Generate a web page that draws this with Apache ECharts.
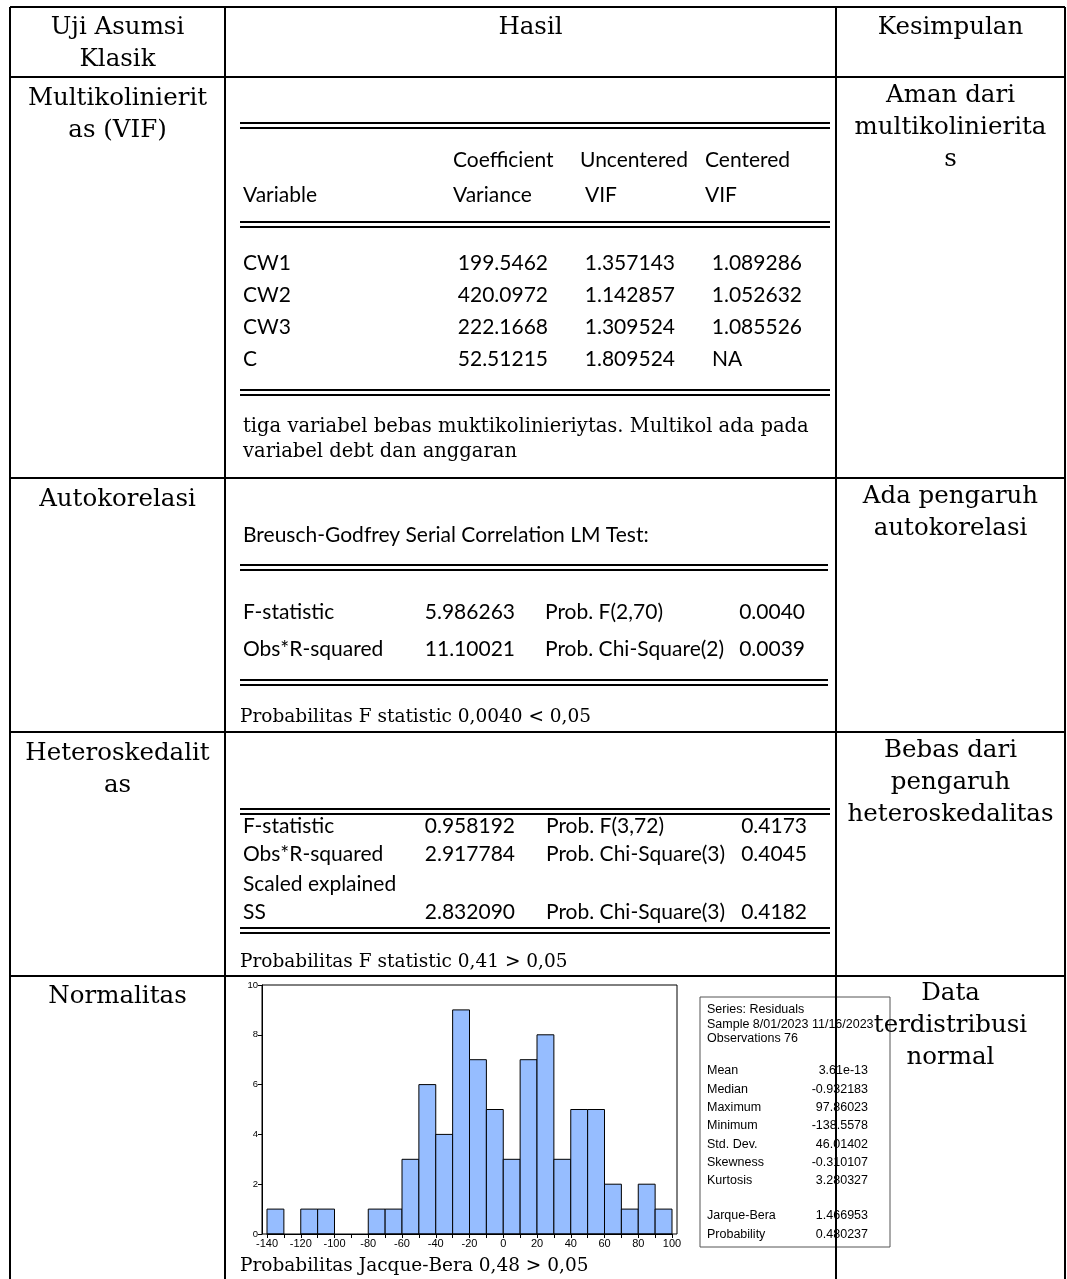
<!DOCTYPE html>
<html><head><meta charset="utf-8">
<script src="https://cdn.jsdelivr.net/npm/echarts@6/dist/echarts.min.js"></script>
<style>html,body{margin:0;padding:0;background:#fff}#c{width:1067px;height:1279px}</style>
</head><body><div id="c"></div><script>
// ---------- data ----------
const headers = ['Uji Asumsi\nKlasik', 'Hasil', 'Kesimpulan'];
const tests = ['Multikolinierit\nas (VIF)', 'Autokorelasi', 'Heteroskedalit\nas', 'Normalitas'];
const conclusions = ['Aman dari\nmultikolinierita\ns', 'Ada pengaruh\nautokorelasi', 'Bebas dari\npengaruh\nheteroskedalitas', 'Data\nterdistribusi\nnormal'];
const notes = ['tiga variabel bebas muktikolinieriytas. Multikol ada pada\nvariabel debt dan anggaran',
  'Probabilitas F statistic 0,0040 < 0,05', 'Probabilitas F statistic 0,41 > 0,05', 'Probabilitas Jacque-Bera 0,48 > 0,05'];
const vifHead1 = ['', 'Coefficient', 'Uncentered', 'Centered'];
const vifHead2 = ['Variable', 'Variance', 'VIF', 'VIF'];
const vifVars = ['CW1', 'CW2', 'CW3', 'C'];
const vifCoefVar = ['199.5462', '420.0972', '222.1668', '52.51215'];
const vifUncentered = ['1.357143', '1.142857', '1.309524', '1.809524'];
const vifCentered = ['1.089286', '1.052632', '1.085526', 'NA'];
const bgTitle = 'Breusch-Godfrey Serial Correlation LM Test:';
const bgNames = ['F-statistic', 'Obs*R-squared'];
const bgValues = ['5.986263', '11.10021'];
const bgProbNames = ['Prob. F(2,70)', 'Prob. Chi-Square(2)'];
const bgProbs = ['0.0040', '0.0039'];
const hetNames = ['F-statistic', 'Obs*R-squared', 'Scaled explained\nSS'];
const hetValues = ['0.958192', '2.917784', '2.832090'];
const hetProbNames = ['Prob. F(3,72)', 'Prob. Chi-Square(3)', 'Prob. Chi-Square(3)'];
const hetProbs = ['0.4173', '0.4045', '0.4182'];
const binEdges = [-140,-130,-120,-110,-100,-90,-80,-70,-60,-50,-40,-30,-20,-10,0,10,20,30,40,50,60,70,80,90,100];
const counts = [1,0,1,1,0,0,1,1,3,6,4,9,7,5,3,7,8,3,5,5,2,1,2,1];
const statsHeader = ['Series: Residuals', 'Sample 8/01/2023 11/16/2023', 'Observations 76'];
const statsLabels = ['Mean', 'Median', 'Maximum', 'Minimum', 'Std. Dev.', 'Skewness', 'Kurtosis', 'Jarque-Bera', 'Probability'];
const statsValues = ['3.61e-13', '-0.932183', '97.86023', '-138.5578', '46.01402', '-0.310107', '3.280327', '1.466953', '0.480237'];

// ---------- layout helpers ----------
const SERIF = 'DejaVu Serif';
const CAL = 'Lato';
const ARIAL = 'Liberation Sans';
const g = [];
function T(x, y, text, size, family, align, z) {
  g.push({ type: 'text', z: z || 10, style: { x: x, y: y, text: text, font: size + 'px "' + family + '"', fill: '#000', textAlign: align || 'left', textVerticalAlign: 'middle' } });
}
function TL(x, y, text, size, family, align, spacing) {
  text.split('\n').forEach((s, i) => T(x, y + i * spacing, s, size, family, align));
}
function L(x1, y1, x2, y2, w, z) {
  g.push({ type: 'line', z: z || 20, shape: { x1: x1, y1: y1, x2: x2, y2: y2 }, style: { stroke: '#000', lineWidth: w } });
}
function DL(x1, x2, y) { L(x1, y, x2, y, 2.2, 15); L(x1, y + 5, x2, y + 5, 2, 15); }

const X = [10, 225, 836, 1065];
const Y = [7, 77, 478, 732, 976, 1300];
// table grid
Y.slice(0, 5).forEach(y => L(X[0], y, X[3], y, 2));
X.forEach(x => L(x, Y[0], x, 1279, 2));

const c1 = (X[0] + X[1]) / 2, c2 = (X[1] + X[2]) / 2, c3 = (X[2] + X[3]) / 2;
const BIG = 24.5, NOTE = 18.5, EV = 21;
TL(c1, 28, headers[0], BIG, SERIF, 'center', 32);
T(c2, 28, headers[1], BIG, SERIF, 'center');
T(c3, 28, headers[2], BIG, SERIF, 'center');
const firstLine = [99, 500, 754, 997];
tests.forEach((t, i) => TL(c1, firstLine[i], t, BIG, SERIF, 'center', 32));
conclusions.forEach((t, i) => TL(c3, firstLine[i] - 3, t, BIG, SERIF, 'center', 32));

// VIF table
DL(240, 830, 123);
vifHead1.forEach((h, i) => { if (h) T([243, 453, 580, 705][i], 160, h, EV, CAL, 'left'); });
vifHead2.forEach((h, i) => T([243, 453, 585, 705][i], 195, h, EV, CAL, 'left'));
DL(240, 830, 222);
vifVars.forEach((v, i) => {
  const y = 263 + i * 32;
  T(243, y, v, EV, CAL, 'left');
  T(548, y, vifCoefVar[i], EV, CAL, 'right');
  T(675, y, vifUncentered[i], EV, CAL, 'right');
  if (vifCentered[i] === 'NA') T(712, y, 'NA', EV, CAL, 'left'); else T(802, y, vifCentered[i], EV, CAL, 'right');
});
DL(240, 830, 390);
TL(243, 427, notes[0], 19.5, SERIF, 'left', 25);

// Breusch-Godfrey
T(243, 535, bgTitle, EV, CAL, 'left');
DL(240, 828, 565);
bgNames.forEach((n, i) => {
  const y = 612 + i * 37;
  T(243, y, n, EV, CAL, 'left');
  T(515, y, bgValues[i], EV, CAL, 'right');
  T(545, y, bgProbNames[i], EV, CAL, 'left');
  T(805, y, bgProbs[i], EV, CAL, 'right');
});
DL(240, 828, 680);
T(240, 717, notes[1], NOTE, SERIF, 'left');

// Heteroskedasticity
DL(240, 830, 809);
const hy = [826, 854, 912];
hetNames.forEach((n, i) => {
  const y = hy[i];
  if (i === 2) { T(243, 884, n.split('\n')[0], EV, CAL, 'left'); T(243, y, n.split('\n')[1], EV, CAL, 'left'); }
  else T(243, y, n, EV, CAL, 'left');
  T(515, y, hetValues[i], EV, CAL, 'right');
  T(546, y, hetProbNames[i], EV, CAL, 'left');
  T(807, y, hetProbs[i], EV, CAL, 'right');
});
DL(240, 830, 928);
T(240, 962, notes[2], NOTE, SERIF, 'left');

// Normality
T(240, 1266, notes[3], NOTE, SERIF, 'left');
// stats box
g.push({ type: 'rect', z: 5, shape: { x: 700, y: 997, width: 190, height: 250 }, style: { fill: '#fff', stroke: '#555', lineWidth: 1 } });
statsHeader.forEach((s, i) => T(707, 1010 + i * 14.5, s, 12.5, ARIAL, 'left', 6));
statsLabels.forEach((s, i) => {
  const y = (i < 7 ? 1071 + i * 18.3 : 1216 + (i - 7) * 18.5);
  T(707, y, s, 12.5, ARIAL, 'left', 6);
  T(868, y, statsValues[i], 12.5, ARIAL, 'right', 6);
});
// histogram frame
g.push({ type: 'rect', z: 4, shape: { x: 262, y: 985, width: 415, height: 249 }, style: { fill: 'none', stroke: '#000', lineWidth: 1 } });

const histData = counts.map((c, i) => [binEdges[i], binEdges[i + 1], c]).filter(d => d[2] > 0);

const chart = echarts.init(document.getElementById('c'), null, { renderer: 'canvas' });
chart.setOption({
  animation: false,
  backgroundColor: '#fff',
  grid: { left: 267, right: 1067 - 672, top: 985, bottom: 1279 - 1234 },
  xAxis: {
    type: 'value', min: -140, max: 100, interval: 10,
    axisLine: { show: true, onZero: false, lineStyle: { color: '#000', width: 1 } },
    axisTick: { show: true, length: 4, lineStyle: { color: '#000' } },
    splitLine: { show: false },
    axisLabel: { fontSize: 11, color: '#000', fontFamily: ARIAL, margin: 4, showMinLabel: true, showMaxLabel: true,
      formatter: v => (v % 20 === 0 ? String(v) : '') }
  },
  yAxis: {
    type: 'value', min: 0, max: 10, interval: 2, offset: 5,
    axisLine: { show: true, onZero: false, lineStyle: { color: '#000', width: 1 } },
    axisTick: { show: true, length: 4, lineStyle: { color: '#000' } },
    splitLine: { show: false },
    axisLabel: { fontSize: 9.5, color: '#000', fontFamily: ARIAL, margin: 4 }
  },
  series: [{
    type: 'custom',
    data: histData,
    encode: { x: [0, 1], y: 2 },
    renderItem: function (params, api) {
      const p0 = api.coord([api.value(0), 0]);
      const p1 = api.coord([api.value(1), api.value(2)]);
      return { type: 'rect', shape: { x: p0[0], y: p1[1], width: p1[0] - p0[0], height: p0[1] - p1[1] },
        style: { fill: '#96bdff', stroke: '#000', lineWidth: 1 } };
    }
  }],
  graphic: { elements: g }
});
</script></body></html>
